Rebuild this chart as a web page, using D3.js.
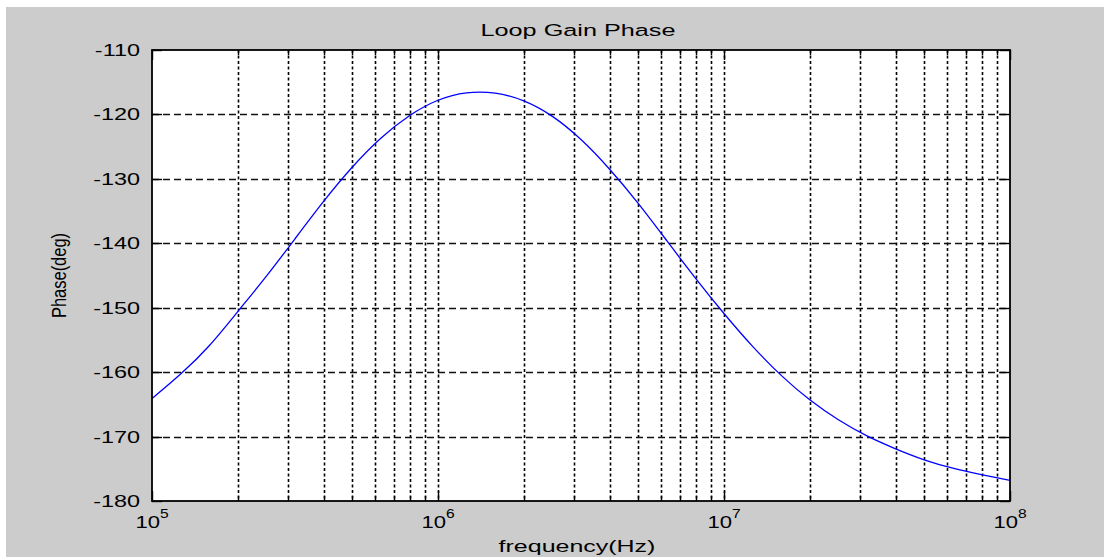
<!DOCTYPE html>
<html>
<head>
<meta charset="utf-8">
<script src="https://cdn.jsdelivr.net/npm/d3@7"></script>
<style>
  html, body { margin: 0; padding: 0; background: #ffffff; }
  svg { display: block; }
  text { font-family: "Liberation Sans", Arial, sans-serif; fill: #000; }
</style>
</head>
<body>
<svg id="chart" width="1104" height="557"></svg>
<script>
// ---- data ----
const titleText = "Loop Gain Phase";
const xLabelText = "frequency(Hz)";
const yLabelText = "Phase(deg)";

const freqHz = [
  1.0e5, 1.259e5, 1.585e5, 1.995e5, 2.512e5, 3.162e5, 3.981e5, 5.012e5, 6.310e5, 7.943e5,
  1.0e6, 1.259e6, 1.585e6, 1.995e6, 2.512e6, 3.162e6, 3.981e6, 5.012e6, 6.310e6, 7.943e6,
  1.0e7, 1.259e7, 1.585e7, 1.995e7, 2.512e7, 3.162e7, 3.981e7, 5.012e7, 6.310e7, 7.943e7,
  1.0e8
];
const phaseDeg = [
  -164.1, -160.3, -155.9, -150.6, -145.1, -139.3, -133.5, -128.2, -123.7, -120.2,
  -117.8, -116.65, -116.7, -117.9, -120.3, -123.9, -128.5, -133.8, -139.6, -145.4,
  -150.9, -156.0, -160.5, -164.3, -167.4, -169.9, -171.9, -173.6, -174.9, -175.9,
  -176.8
];

const xDecadeExponents = [5, 6, 7, 8];
const xMinorMultipliers = [2, 3, 4, 5, 6, 7, 8, 9];
const yTicks = [-110, -120, -130, -140, -150, -160, -170, -180];
const yDomain = [-180, -110];
const xDomain = [1e5, 1e8];

// ---- layout ----
const W = 1104, H = 557;
const plot = { left: 152, right: 1010, top: 50, bottom: 501 };

const svg = d3.select("#chart");

// figure background (white margin at top/left, grey panel)
svg.append("rect").attr("x", 0).attr("y", 0).attr("width", W).attr("height", H).attr("fill", "#ffffff");
svg.append("rect").attr("x", 6).attr("y", 7).attr("width", W - 6).attr("height", H - 7).attr("fill", "#cccccc");

// plot area background
svg.append("rect")
  .attr("x", plot.left).attr("y", plot.top)
  .attr("width", plot.right - plot.left).attr("height", plot.bottom - plot.top)
  .attr("fill", "#ffffff");

const x = d3.scaleLog().domain(xDomain).range([plot.left, plot.right]);
const y = d3.scaleLinear().domain(yDomain).range([plot.bottom, plot.top]);

// minor + major vertical grid values
const vGrid = [];
xDecadeExponents.forEach(e => {
  const base = Math.pow(10, e);
  if (base > xDomain[0] && base < xDomain[1]) vGrid.push(base);
  if (e < 8) xMinorMultipliers.forEach(m => vGrid.push(m * base));
});

const grid = svg.append("g");
grid.selectAll("line.v").data(vGrid).join("line")
  .attr("class", "v")
  .attr("x1", d => Math.round(x(d)) + 0.5).attr("x2", d => Math.round(x(d)) + 0.5)
  .attr("y1", plot.top).attr("y2", plot.bottom)
  .attr("stroke", "#000").attr("stroke-width", 1.6)
  .attr("stroke-dasharray", "3,2.5");

grid.selectAll("line.h").data(yTicks.filter(v => v > yDomain[0] && v < yDomain[1])).join("line")
  .attr("class", "h")
  .attr("x1", plot.left).attr("x2", plot.right)
  .attr("y1", d => Math.round(y(d)) + 0.5).attr("y2", d => Math.round(y(d)) + 0.5)
  .attr("stroke", "#111").attr("stroke-width", 1.4)
  .attr("stroke-dasharray", "7,4");

// ticks (inward, bottom/top and left/right)
const ticks = svg.append("g").attr("stroke", "#000").attr("stroke-width", 1.4);
const majorX = xDecadeExponents.map(e => Math.pow(10, e));
const minorX = vGrid.filter(v => !majorX.includes(v));
const majLen = 10, minLen = 5;
majorX.forEach(v => {
  const px = Math.round(x(v)) + 0.5;
  ticks.append("line").attr("x1", px).attr("x2", px).attr("y1", plot.bottom).attr("y2", plot.bottom - majLen);
  ticks.append("line").attr("x1", px).attr("x2", px).attr("y1", plot.top).attr("y2", plot.top + majLen);
});
minorX.forEach(v => {
  const px = Math.round(x(v)) + 0.5;
  ticks.append("line").attr("x1", px).attr("x2", px).attr("y1", plot.bottom).attr("y2", plot.bottom - minLen);
  ticks.append("line").attr("x1", px).attr("x2", px).attr("y1", plot.top).attr("y2", plot.top + minLen);
});
yTicks.forEach(v => {
  const py = Math.round(y(v)) + 0.5;
  ticks.append("line").attr("x1", plot.left).attr("x2", plot.left + majLen).attr("y1", py).attr("y2", py);
  ticks.append("line").attr("x1", plot.right).attr("x2", plot.right - majLen).attr("y1", py).attr("y2", py);
});

// data line
const line = d3.line()
  .x((d, i) => x(freqHz[i]))
  .y(d => y(d))
  .curve(d3.curveNatural);
svg.append("path")
  .datum(phaseDeg)
  .attr("d", line)
  .attr("fill", "none")
  .attr("stroke", "#0000ff")
  .attr("stroke-width", 1.3);

// axes box
svg.append("rect")
  .attr("x", plot.left).attr("y", plot.top)
  .attr("width", plot.right - plot.left).attr("height", plot.bottom - plot.top)
  .attr("fill", "none").attr("stroke", "#000").attr("stroke-width", 1.8);

// y tick labels
yTicks.forEach(v => {
  svg.append("text")
    .attr("transform", `translate(140,${y(v)}) scale(1.42,1)`)
    .attr("text-anchor", "end")
    .attr("dy", "0.36em")
    .attr("font-size", 16.5)
    .text(String(v));
});

// x tick labels 10^n
xDecadeExponents.forEach(e => {
  const t = svg.append("text")
    .attr("transform", `translate(${x(Math.pow(10, e))},528) scale(1.3,1)`)
    .attr("text-anchor", "middle")
    .attr("font-size", 17);
  t.append("tspan").text("10");
  t.append("tspan").attr("font-size", 12).attr("dy", -10).text(String(e));
});

// title
svg.append("text")
  .attr("transform", `translate(578,35.5) scale(1.53,1)`)
  .attr("text-anchor", "middle")
  .attr("font-size", 16.5)
  .text(titleText);

// x label
svg.append("text")
  .attr("transform", `translate(577,552) scale(1.515,1)`)
  .attr("text-anchor", "middle")
  .attr("font-size", 16.5)
  .text(xLabelText);

// y label
svg.append("text")
  .attr("transform", `translate(66,275.5) scale(1.25,1) rotate(-90)`)
  .attr("text-anchor", "middle")
  .attr("font-size", 16.5)
  .text(yLabelText);
</script>
</body>
</html>
